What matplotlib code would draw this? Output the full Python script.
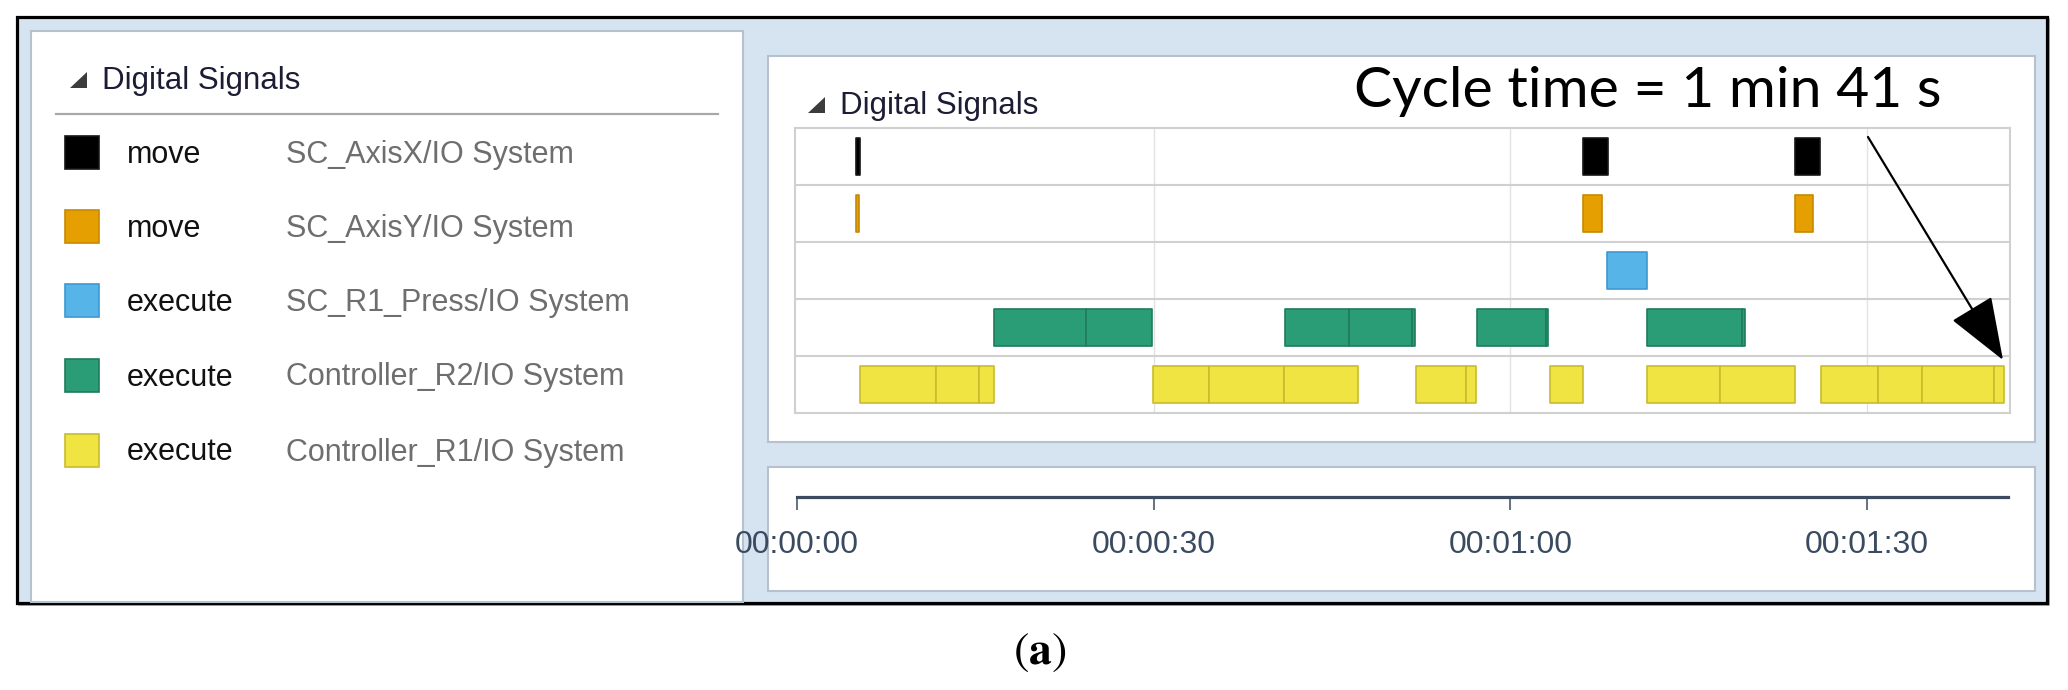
import matplotlib
matplotlib.use('Agg')
import matplotlib.pyplot as plt
from matplotlib.patches import Rectangle, Polygon
from matplotlib.ticker import FuncFormatter

W, H = 2068, 690

# signal list (top to bottom)
signal_names = ['move', 'move', 'execute', 'execute', 'execute']
signal_sources = ['SC_AxisX/IO System', 'SC_AxisY/IO System', 'SC_R1_Press/IO System',
                  'Controller_R2/IO System', 'Controller_R1/IO System']
signal_colors = ['#000000', '#e69f00', '#56b4e9', '#2a9d76', '#f0e442']
edge_colors = ['#161616', '#c88a00', '#3c9ad2', '#1f7c5c', '#c8bc2e']

# on-intervals in seconds (start, end)
axis_x_on = [(4.95, 5.3), (66.08, 68.23), (83.91, 86.04)]
axis_y_on = [(4.98, 5.25), (66.08, 67.67), (83.91, 85.49)]
press_on = [(68.11, 71.45)]
r2_on = [(16.53, 24.31), (24.31, 29.82), (41.01, 46.43), (46.43, 51.72), (51.72, 51.98),
         (57.15, 62.99), (62.99, 63.16), (71.47, 79.5), (79.5, 79.75)]
r1_on = [(5.34, 11.69), (11.69, 15.31), (15.31, 16.53), (29.94, 34.65), (34.65, 40.96),
         (40.96, 47.18), (52.06, 56.23), (56.23, 57.08), (63.31, 66.11), (71.47, 77.63),
         (77.63, 83.95), (86.12, 90.92), (90.92, 94.62), (94.62, 100.67), (100.67, 101.51)]
signal_intervals = [axis_x_on, axis_y_on, press_on, r2_on, r1_on]

tick_seconds = [0, 30, 60, 90]
header_text = 'Digital Signals'
cycle_label = 'Cycle time = 1 min 41 s'
panel_label = 'a'

ui_font = ['Liberation Sans', 'Arial', 'DejaVu Sans']

fig = plt.figure(figsize=(W / 100, H / 100), dpi=100)
fig.patch.set_facecolor('white')

# background canvas in pixel coords
bg = fig.add_axes([0, 0, 1, 1])
bg.set_xlim(0, W)
bg.set_ylim(H, 0)
bg.axis('off')

bg.plot([19, 2049, 2049], [605, 605, 19], color='#9a9a9a', lw=1.2, zorder=0)
bg.add_patch(Rectangle((17, 17), 2030, 586, facecolor='#d6e3f1', edgecolor='black', lw=2.3, zorder=0))
panel_edge = '#b6c1cd'
bg.add_patch(Rectangle((31, 31), 712, 571, facecolor='white', edgecolor=panel_edge, lw=1.5, zorder=1))
bg.add_patch(Rectangle((768, 56), 1267, 386, facecolor='white', edgecolor=panel_edge, lw=1.5, zorder=1))
bg.add_patch(Rectangle((768, 467), 1267, 124, facecolor='white', edgecolor=panel_edge, lw=1.5, zorder=1))

# headers
def header(x, y):
    bg.add_patch(Polygon([[x, y + 16], [x + 17, y + 16], [x + 17, y]], closed=True,
                         facecolor='#3c3c3c', edgecolor='none', zorder=2))
    bg.text(x + 32, y + 17, header_text, fontsize=22.5, family=ui_font, color='#1c1c34',
            va='baseline', ha='left', zorder=3)

header(70, 72)
header(808, 97)
bg.plot([56, 718], [114, 114], color='#a8a8a8', lw=1.6, zorder=2)

# legend rows
legend_y = [152.5, 226.5, 300.5, 375, 450]
for name, src, fc, ec, yc in zip(signal_names, signal_sources, signal_colors, edge_colors, legend_y):
    bg.add_patch(Rectangle((64.5, yc - 16.5), 34, 33, facecolor=fc, edgecolor=ec, lw=1.2, zorder=2))
    bg.text(127, yc + 10.5, name, fontsize=22, family=ui_font, color='#111111', va='baseline', zorder=3)
    bg.text(286, yc + 10.5, src, fontsize=22, family=ui_font, color='#6e6e6e', va='baseline', zorder=3)

# signal chart
x0_px, x1_px = 795, 2010
px_per_s = 11.89
t_left = (x0_px - 797) / px_per_s
t_right = (x1_px - 797) / px_per_s

ax = fig.add_axes([x0_px / W, 1 - 413 / H, (x1_px - x0_px) / W, (413 - 128) / H])
ax.set_xlim(t_left, t_right)
ax.set_ylim(len(signal_intervals), 0)
ax.set_facecolor('white')
for s in ax.spines.values():
    s.set_color('#d0d0d0')
    s.set_linewidth(1.5)
ax.set_xticks([])
ax.set_yticks([])
for t in tick_seconds[1:]:
    ax.axvline(t, color='#e2e2e2', lw=1.0, zorder=0)
for i in range(1, len(signal_intervals)):
    ax.axhline(i, color='#d0d0d0', lw=1.5, zorder=0)

bar_h = 0.65
for i, (iv, fc, ec) in enumerate(zip(signal_intervals, signal_colors, edge_colors)):
    ax.broken_barh([(a, b - a) for a, b in iv], (i + 0.5 - bar_h / 2, bar_h),
                   facecolors=fc, edgecolors=ec, linewidth=1.2, zorder=2)

# time axis
axt = fig.add_axes([x0_px / W, 1 - 497 / H, (x1_px - x0_px) / W, 0.02])
axt.set_xlim(t_left, t_right)
axt.patch.set_alpha(0)
for side in ['top', 'left', 'right']:
    axt.spines[side].set_visible(False)
axt.spines['bottom'].set_bounds(0, (2008 - 797) / px_per_s)
axt.spines['bottom'].set_color('#3c4b60')
axt.spines['bottom'].set_linewidth(2.3)
axt.set_yticks([])
axt.set_xticks(tick_seconds)
axt.xaxis.set_major_formatter(FuncFormatter(
    lambda v, p: f'{int(v) // 3600:02d}:{int(v) // 60 % 60:02d}:{int(v) % 60:02d}'))
axt.tick_params(axis='x', direction='out', length=9.5, width=1.1, color='#3c4b60',
                labelcolor='#3a4a60', labelsize=23, pad=14)
for lab in axt.get_xticklabels():
    lab.set_family(ui_font)

# overlay for annotation on top of the chart
top = fig.add_axes([0, 0, 1, 1])
top.set_xlim(0, W)
top.set_ylim(H, 0)
top.axis('off')
top.patch.set_alpha(0)

cyc = top.text(1354, 107, cycle_label, fontsize=40, family=['Lato', 'DejaVu Sans'],
               va='baseline', ha='left')
fig.canvas.draw()
bb = cyc.get_window_extent()
cyc.set_fontsize(40 * 588 / bb.width)
top.annotate('', xy=(2003, 360), xytext=(1868, 137),
             arrowprops=dict(arrowstyle='-|>,head_length=2.0,head_width=0.75', color='black',
                             lw=1.6, mutation_scale=20, shrinkA=0, shrinkB=0))

plt.rcParams['mathtext.fontset'] = 'stix'
top.text(1040, 652, r'$(\mathbf{' + panel_label + r'})$', fontsize=33, ha='center', va='center')

fig.savefig('out.png', dpi=100)
